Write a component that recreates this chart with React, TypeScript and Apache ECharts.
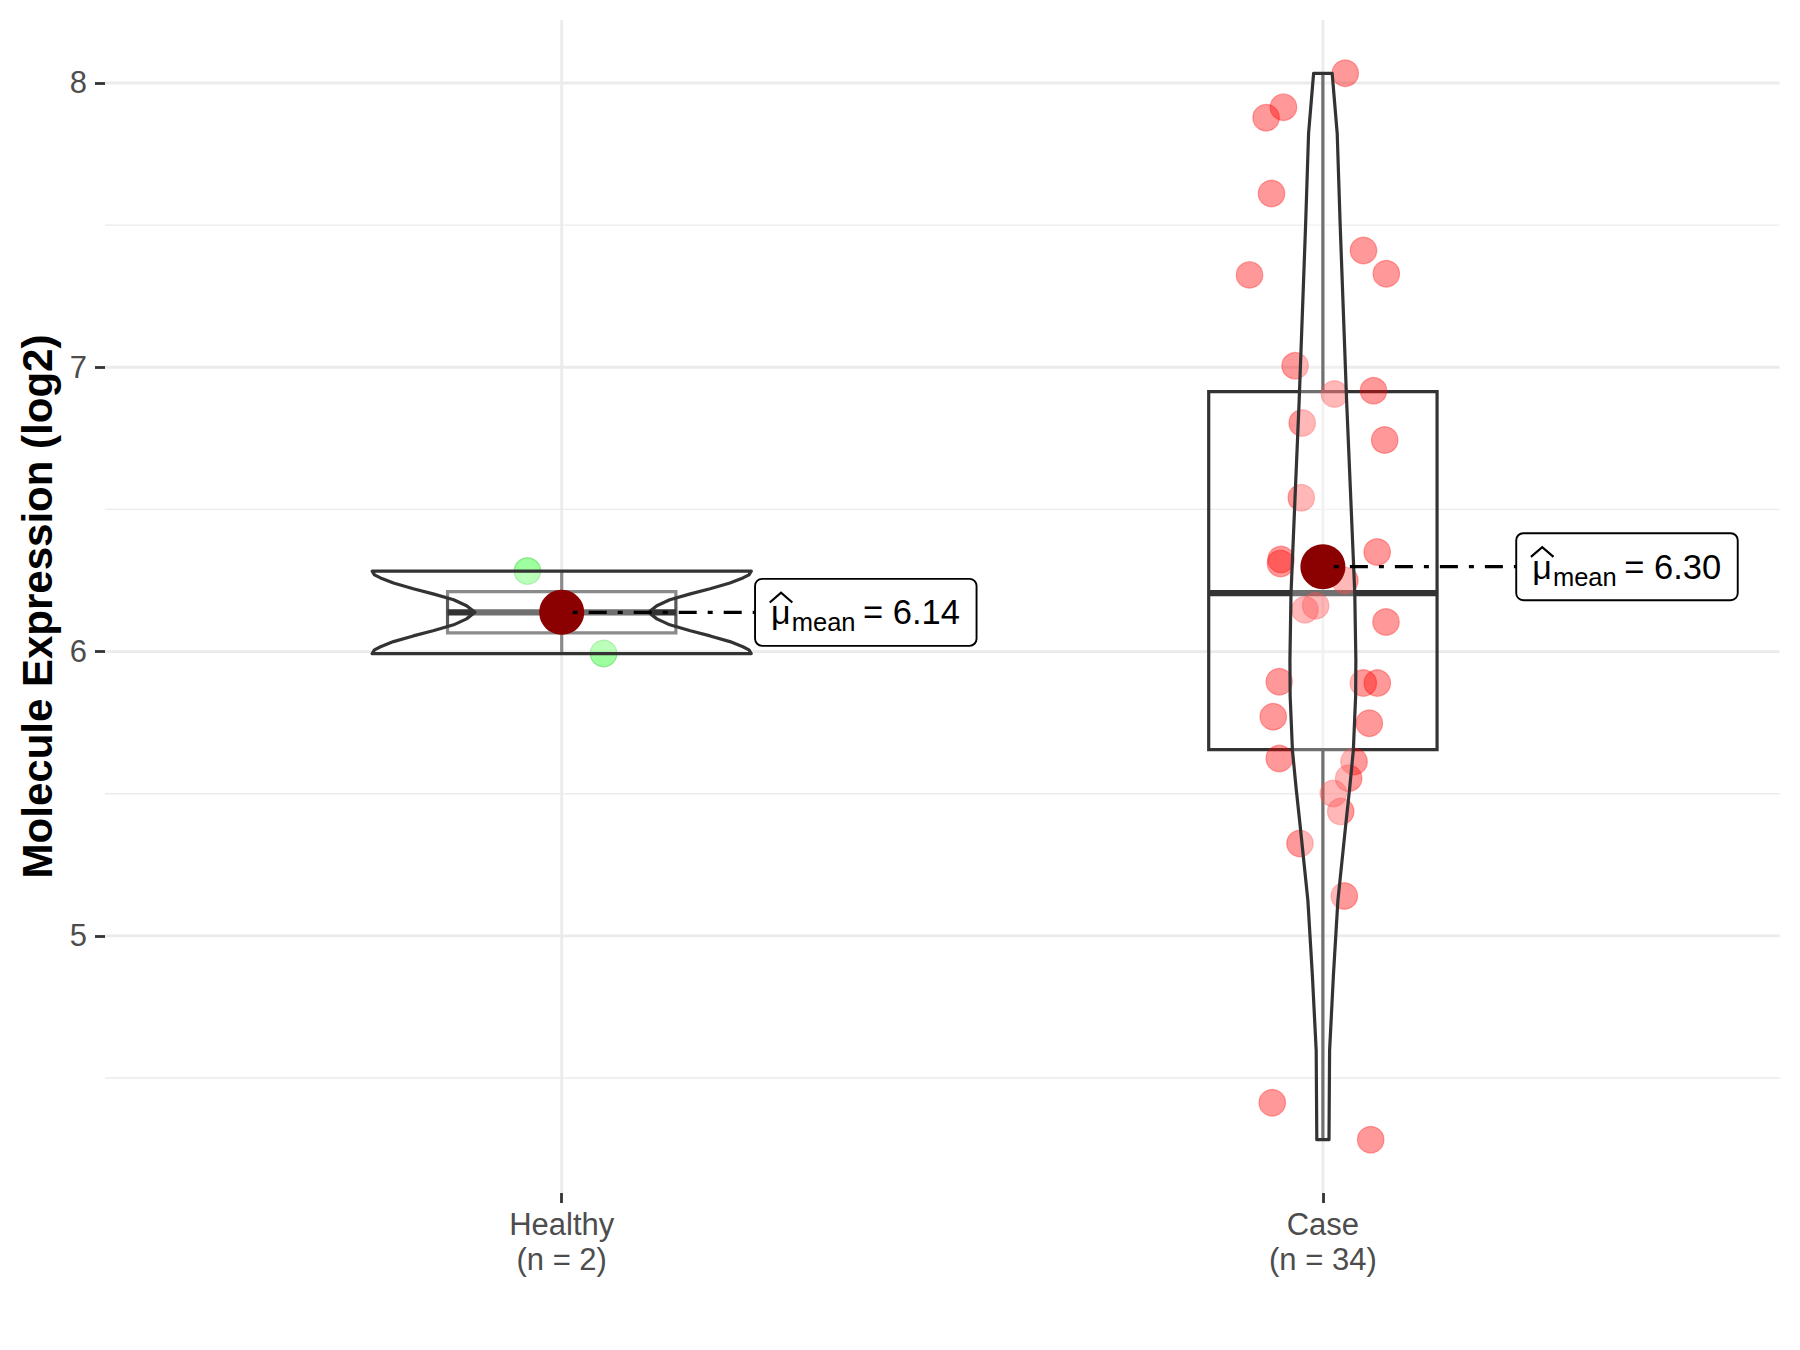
import React, { useEffect, useRef } from "react";
import * as echarts from "echarts";

// ---------- DATA ----------
const categories = ["Healthy", "Case"];

const healthyY = [6.283, 5.993];
const healthyX = [0.955, 1.055];

const caseY = [
  8.034, 7.915, 7.878, 7.611, 7.411, 7.329, 7.325, 7.005, 6.906, 6.917, 6.804, 6.744,
  6.541, 6.35, 6.324, 6.31, 6.25, 6.161, 6.147, 6.104, 5.894, 5.889, 5.889, 5.771,
  5.748, 5.624, 5.613, 5.554, 5.501, 5.437, 5.325, 5.14, 4.413, 4.283,
];
const caseX = [
  2.0294, 1.9482, 1.9254, 1.9325, 2.0533, 2.0833, 1.9036, 1.9635, 2.0152, 2.0665, 1.9728, 2.0812,
  1.9716, 2.0713, 1.945, 1.9444, 2.0289, 1.9905, 1.9765, 2.0829, 1.9427, 2.0531, 2.0715, 1.9348,
  2.061, 1.9427, 2.0409, 2.0339, 2.0137, 2.0234, 1.9699, 2.0281, 1.9335, 2.0628,
];

// violin outlines: [value, half width in category units]
const healthyViolin = [
  [6.283, 0.249], [6.27, 0.246], [6.259, 0.238], [6.241, 0.221], [6.221, 0.195], [6.203, 0.169],
  [6.182, 0.142], [6.161, 0.125], [6.138, 0.114], [6.115, 0.125], [6.094, 0.142], [6.073, 0.169],
  [6.055, 0.195], [6.035, 0.221], [6.017, 0.238], [6.006, 0.246], [5.993, 0.249],
];
const caseViolin = [
  [8.034, 0.0122], [7.823, 0.0188], [7.509, 0.0226], [7.194, 0.0269], [6.88, 0.0312],
  [6.566, 0.0362], [6.204, 0.0419], [5.971, 0.0433], [5.843, 0.043], [5.653, 0.04],
  [5.52, 0.0352], [5.388, 0.0299], [5.124, 0.0197], [4.86, 0.0138], [4.596, 0.0088], [4.283, 0.008],
];

const yMajorTicks = [5, 6, 7, 8];
const yMinorTicks = [4.5, 5.5, 6.5, 7.5];
const xTicks = [1, 2];

// ---------- STYLE ----------
const FONT = '"Liberation Sans", Arial, Helvetica, sans-serif';
const BOX_HALF = 0.15;
const LABEL_DX = 0.254;
const LABEL_W = 221.5;
const LABEL_H = 67;
const LINE_W = 3.2;
const boxEdgeColors = ["#595959", "#333333"];
const pointColors = ["rgba(0,255,0,0.38)", "rgba(255,0,0,0.4)"];
const pointBorders = ["rgba(0,190,0,0.35)", "rgba(255,0,0,0.35)"];

// ---------- HELPERS ----------
function quantile(sorted: number[], p: number) {
  const h = (sorted.length - 1) * p;
  const lo = Math.floor(h);
  const hi = Math.ceil(h);
  return sorted[lo] + (h - lo) * (sorted[hi] - sorted[lo]);
}
function boxStats(values: number[]) {
  const s = [...values].sort((a, b) => a - b);
  const q1 = quantile(s, 0.25);
  const med = quantile(s, 0.5);
  const q3 = quantile(s, 0.75);
  const iqr = q3 - q1;
  const lo = s.find((v) => v >= q1 - 1.5 * iqr) as number;
  const hi = [...s].reverse().find((v) => v <= q3 + 1.5 * iqr) as number;
  return [lo, q1, med, q3, hi];
}
const mean = (a: number[]) => a.reduce((s, v) => s + v, 0) / a.length;

const groupYs = [healthyY, caseY];
const groupXs = [healthyX, caseX];
const violins = [healthyViolin, caseViolin];
const counts = groupYs.map((g) => g.length);
const means = groupYs.map(mean);

const allY = [...healthyY, ...caseY];
const dataMin = Math.min(...allY);
const dataMax = Math.max(...allY);
const pad = (dataMax - dataMin) * 0.05;
const yMin = dataMin - pad;
const yMax = dataMax + pad;

export default function App() {
  const ref = useRef<HTMLDivElement>(null);

  useEffect(() => {
    if (!ref.current) return;
    const chart = echarts.init(ref.current, null, { renderer: "svg" });

    const gridSeries = {
      type: "custom",
      silent: true,
      z: 0,
      data: [[1, 6]],
      renderItem: (params: any, api: any) => {
        const cs = params.coordSys;
        const children: any[] = [];
        yMinorTicks.forEach((v) => {
          const y = api.coord([1, v])[1];
          children.push({ type: "line", shape: { x1: cs.x, y1: y, x2: cs.x + cs.width, y2: y }, style: { stroke: "#EBEBEB", lineWidth: 1.4 } });
        });
        yMajorTicks.forEach((v) => {
          const y = api.coord([1, v])[1];
          children.push({ type: "line", shape: { x1: cs.x, y1: y, x2: cs.x + cs.width, y2: y }, style: { stroke: "#EBEBEB", lineWidth: 2.8 } });
        });
        xTicks.forEach((v) => {
          const x = api.coord([v, 6])[0];
          children.push({ type: "line", shape: { x1: x, y1: cs.y, x2: x, y2: cs.y + cs.height }, style: { stroke: "#EBEBEB", lineWidth: 2.8 } });
        });
        return { type: "group", children };
      },
    };

    const boxSeries = {
      type: "custom",
      silent: true,
      z: 1,
      data: groupYs.map((g, i) => [i + 1, ...boxStats(g)]),
      renderItem: (params: any, api: any) => {
        const x = api.value(0);
        const lo = api.value(1), q1 = api.value(2), med = api.value(3), q3 = api.value(4), hi = api.value(5);
        const col = boxEdgeColors[params.dataIndex];
        const c = (v: number) => api.coord([x, v]);
        const tl = api.coord([x - BOX_HALF, q3]);
        const br = api.coord([x + BOX_HALF, q1]);
        const ml = api.coord([x - BOX_HALF, med]);
        const mr = api.coord([x + BOX_HALF, med]);
        return {
          type: "group",
          children: [
            { type: "line", shape: { x1: c(hi)[0], y1: c(hi)[1], x2: c(q3)[0], y2: c(q3)[1] }, style: { stroke: col, lineWidth: LINE_W } },
            { type: "line", shape: { x1: c(lo)[0], y1: c(lo)[1], x2: c(q1)[0], y2: c(q1)[1] }, style: { stroke: col, lineWidth: LINE_W } },
            { type: "rect", shape: { x: tl[0], y: tl[1], width: br[0] - tl[0], height: br[1] - tl[1] }, style: { fill: "none", stroke: col, lineWidth: LINE_W } },
            { type: "line", shape: { x1: ml[0], y1: ml[1], x2: mr[0], y2: mr[1] }, style: { stroke: "#333333", lineWidth: LINE_W * 2 } },
          ],
        };
      },
    };

    const pointSeries = groupYs.map((ys, gi) => ({
      type: "scatter",
      silent: true,
      z: 2,
      symbolSize: 26.5,
      itemStyle: { color: pointColors[gi], borderColor: pointBorders[gi], borderWidth: 1.2, opacity: 1 },
      data: ys.map((y, i) => [groupXs[gi][i], y]),
    }));

    const violinSeries = {
      type: "custom",
      silent: true,
      z: 3,
      data: violins.map((_, i) => [i + 1, means[i]]),
      renderItem: (params: any, api: any) => {
        const x = api.value(0);
        const outline = violins[params.dataIndex];
        const left = outline.map(([v, hw]) => api.coord([x - hw, v]));
        const right = [...outline].reverse().map(([v, hw]) => api.coord([x + hw, v]));
        return {
          type: "polygon",
          shape: { points: [...left, ...right] },
          style: { fill: "rgba(255,255,255,0.3)", stroke: "#333333", lineWidth: LINE_W, lineJoin: "round" },
        };
      },
    };

    const meanSeries = {
      type: "scatter",
      silent: true,
      z: 4,
      symbolSize: 45,
      itemStyle: { color: "#8B0000", opacity: 1 },
      data: means.map((m, i) => [i + 1, m]),
    };

    const labelSeries = {
      type: "custom",
      silent: true,
      z: 5,
      data: means.map((m, i) => [i + 1, m]),
      renderItem: (params: any, api: any) => {
        const x = api.value(0);
        const m = api.value(1);
        const p = api.coord([x, m]);
        const b = api.coord([x + LABEL_DX, m]);
        const bx = b[0];
        const cy = p[1];
        return {
          type: "group",
          children: [
            { type: "line", shape: { x1: p[0], y1: cy, x2: bx, y2: cy }, style: { stroke: "#000", lineWidth: 3.2, lineDash: [18, 11, 5, 11], lineDashOffset: 18 } },
            { type: "rect", shape: { x: bx, y: cy - LABEL_H / 2, width: LABEL_W, height: LABEL_H, r: 7 }, style: { fill: "#fff", stroke: "#000", lineWidth: 1.9 } },
            { type: "polyline", shape: { points: [[bx + 14.7, cy - 9.8], [bx + 26, cy - 19.6], [bx + 37.3, cy - 9.8]] }, style: { stroke: "#000", lineWidth: 2.2, fill: "none" } },
            { type: "text", style: { text: "μ", x: bx + 16, y: cy, fontSize: 34, fontFamily: FONT, fill: "#000", align: "left", verticalAlign: "middle" } },
            { type: "text", style: { text: "mean", x: bx + 36.7, y: cy + 10, fontSize: 25.5, fontFamily: FONT, fill: "#000", align: "left", verticalAlign: "middle" } },
            { type: "text", style: { text: "= " + m.toFixed(2), x: bx + 108, y: cy, fontSize: 34.5, fontFamily: FONT, fill: "#000", align: "left", verticalAlign: "middle" } },
          ],
        };
      },
    };

    chart.setOption({
      animation: false,
      backgroundColor: "#ffffff",
      grid: { left: 105, right: 20.4, top: 20, bottom: 157, containLabel: false },
      xAxis: {
        type: "value",
        min: 0.4,
        max: 2.6,
        axisLine: { show: false },
        splitLine: { show: false },
        axisTick: { show: true, customValues: xTicks, length: 10, lineStyle: { color: "#333333", width: 2.8 } },
        axisLabel: {
          customValues: xTicks,
          formatter: (v: number) => {
            const i = Math.round(v) - 1;
            return categories[i] + "\n(n = " + counts[i] + ")";
          },
          fontSize: 31,
          lineHeight: 35,
          color: "#4D4D4D",
          fontFamily: FONT,
          margin: 14,
        },
      },
      yAxis: {
        type: "value",
        min: yMin,
        max: yMax,
        axisLine: { show: false },
        splitLine: { show: false },
        axisTick: { show: true, customValues: yMajorTicks, length: 10, lineStyle: { color: "#333333", width: 2.8 } },
        axisLabel: {
          customValues: yMajorTicks,
          formatter: (v: number) => String(v),
          fontSize: 31,
          color: "#4D4D4D",
          fontFamily: FONT,
          margin: 18,
        },
        name: "Molecule Expression (log2)",
        nameLocation: "middle",
        nameGap: 46,
        nameRotate: 90,
        nameTextStyle: { fontSize: 42, fontWeight: "bold", color: "#000000", fontFamily: FONT },
      },
      series: [gridSeries, boxSeries, ...pointSeries, violinSeries, meanSeries, labelSeries],
    });

    return () => chart.dispose();
  }, []);

  return <div ref={ref} style={{ position: "absolute", left: 0, top: 0, width: 1800, height: 1350 }} />;
}
